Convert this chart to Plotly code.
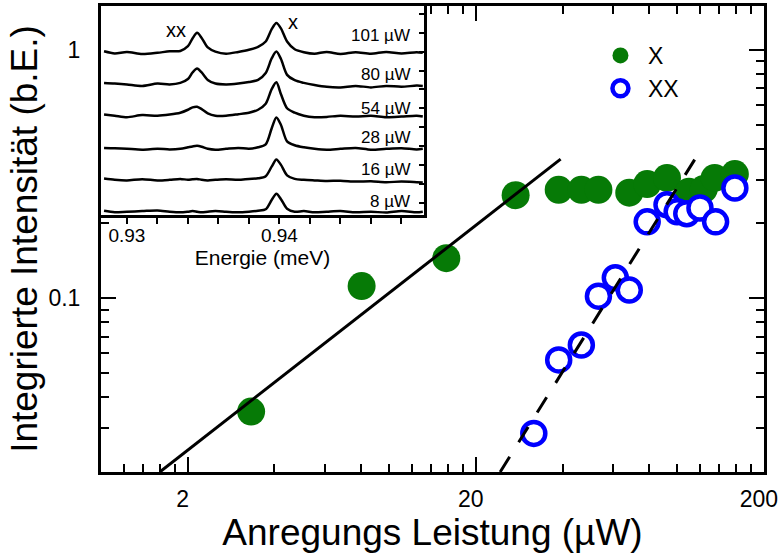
import plotly.graph_objects as go

# ---------------- main data ----------------
power_x = [3.32, 8.03, 15.8, 27.5, 38.8, 46.5, 53.3, 68.2, 78.7, 92.2, 109.9, 123.7, 135.0, 158.6]
inten_x = [0.035, 0.112, 0.145, 0.26, 0.273, 0.273, 0.273, 0.266, 0.288, 0.305, 0.268, 0.275, 0.305, 0.316]

power_xx = [31.8, 38.8, 46.5, 53.3, 61.0, 68.2, 78.7, 92.2, 100.0, 108.0, 120.0, 136.0, 158.6]
inten_xx = [0.0286, 0.0565, 0.0649, 0.102, 0.121, 0.108, 0.203, 0.238, 0.223, 0.219, 0.231, 0.203, 0.278]

fit_lin_x = [1.6, 39.4]
fit_lin_y = [0.02, 0.363]
fit_quad_x = [24.3, 121.8]
fit_quad_y = [0.02, 0.402]

x_tickvals = [2, 20, 200]
x_ticktext = ["2", "20", "200"]
x_minor = [1.2, 1.4, 1.6, 1.8, 4, 6, 8, 10, 12, 14, 16, 18, 40, 60, 80, 100, 120, 140, 160, 180]
y_tickvals = [0.1, 1]
y_ticktext = ["0.1", "1"]
y_minor = [0.03, 0.04, 0.05, 0.06, 0.07, 0.08, 0.09, 0.2, 0.3, 0.4, 0.5, 0.6, 0.7, 0.8, 0.9]

# ---------------- inset spectra ----------------
energy = [0.9285, 0.9292, 0.9300, 0.9310, 0.9320, 0.9328, 0.9335, 0.9340, 0.9343, 0.9346,
          0.9349, 0.9353, 0.9358, 0.9365, 0.9373, 0.9380, 0.9386, 0.9391, 0.9395, 0.9398,
          0.9401, 0.9405, 0.9410, 0.9416, 0.9423, 0.9431, 0.9440, 0.9450, 0.9460, 0.9470,
          0.9480, 0.9490, 0.9494]
spec_101 = [0.05, -0.02, 0.03, -0.04, 0.0, 0.05, 0.06, 0.22, 0.48, 0.67, 0.50, 0.18, 0.04, -0.03, 0.03, 0.10,
            0.20, 0.38, 0.80, 1.00, 0.82, 0.38, 0.12, 0.02, -0.03, 0.03, -0.04, 0.02, -0.03, 0.03, -0.02, 0.02, 0.0]
spec_80 = [0.05, 0.03, 0.0, -0.05, 0.03, 0.0, 0.05, 0.18, 0.40, 0.53, 0.40, 0.15, 0.03, 0.0, 0.03, 0.08,
           0.15, 0.38, 0.88, 1.10, 0.85, 0.32, 0.14, 0.05, -0.02, -0.08, -0.10, -0.05, -0.10, -0.05, -0.08, -0.04, -0.05]
spec_54 = [0.04, 0.0, -0.05, 0.02, 0.0, 0.04, 0.10, 0.20, 0.28, 0.30, 0.22, 0.08, 0.0, 0.0, 0.05, 0.10,
           0.20, 0.40, 0.90, 1.12, 0.72, 0.25, 0.10, 0.0, -0.05, -0.04, 0.0, -0.03, 0.0, -0.05, -0.03, 0.0, -0.03]
spec_28 = [0.03, 0.02, 0.0, -0.03, 0.0, -0.02, 0.0, 0.05, 0.08, 0.10, 0.07, 0.0, -0.03, 0.0, 0.03, 0.0,
           0.05, 0.15, 0.70, 1.05, 0.80, 0.25, 0.12, 0.05, 0.0, -0.03, 0.0, 0.03, -0.03, 0.0, 0.02, -0.02, 0.0]
spec_16 = [0.04, 0.0, -0.02, 0.02, -0.02, 0.0, 0.03, 0.0, 0.02, 0.03, 0.0, -0.02, 0.0, 0.02, 0.0, 0.03,
           0.05, 0.12, 0.45, 0.68, 0.50, 0.15, 0.03, 0.0, -0.02, -0.04, -0.03, -0.06, -0.05, -0.08, -0.06, -0.08, -0.09]
spec_8 = [0.03, -0.02, 0.0, 0.02, 0.04, 0.0, -0.02, 0.0, 0.02, 0.0, -0.02, 0.0, 0.02, 0.0, -0.02, 0.0,
          0.03, 0.08, 0.40, 0.60, 0.42, 0.10, 0.0, 0.02, -0.02, 0.0, 0.02, -0.02, 0.0, -0.03, 0.02, -0.02, 0.0]
spectra = [spec_101, spec_80, spec_54, spec_28, spec_16, spec_8]
spec_offsets = [5.43, 4.37, 3.32, 2.21, 1.17, 0.10]
spec_labels = ["101 µW", "80 µW", "54 µW", "28 µW", "16 µW", "8 µW"]
spec_label_y = [6.0, 4.7, 3.57, 2.6, 1.5, 0.43]
inset_ticks = [0.93, 0.94]
inset_ticktext = ["0.93", "0.94"]
inset_minor = [0.932, 0.934, 0.936, 0.938, 0.942, 0.944, 0.946, 0.948]

FONT = "Liberation Sans, Arial, sans-serif"
GREEN = "#067a06"
BLUE = "#0000ff"

fig = go.Figure()

fig.add_trace(go.Scatter(x=power_x, y=inten_x, mode="markers", name="X",
                         marker=dict(size=28, color=GREEN, line=dict(width=0))))
fig.add_trace(go.Scatter(x=power_xx, y=inten_xx, mode="markers", name="XX",
                         marker=dict(size=23, color="white", line=dict(width=4.5, color=BLUE))))
fig.add_trace(go.Scatter(x=fit_lin_x, y=fit_lin_y, mode="lines", showlegend=False,
                         line=dict(color="black", width=3)))
fig.add_trace(go.Scatter(x=fit_quad_x, y=fit_quad_y, mode="lines", showlegend=False,
                         line=dict(color="black", width=3, dash="18px,17px")))

for spec, off in zip(spectra, spec_offsets):
    fig.add_trace(go.Scatter(x=energy, y=[v + off for v in spec], mode="lines", showlegend=False,
                             xaxis="x2", yaxis="y2",
                             line=dict(color="black", width=2.5, shape="spline", smoothing=0.8)))

for lab, ly in zip(spec_labels, spec_label_y):
    fig.add_annotation(x=0.9487, y=ly, xref="x2", yref="y2", text=lab, showarrow=False,
                       xanchor="right", yanchor="middle", font=dict(size=17, family=FONT, color="black"))
fig.add_annotation(x=0.9332, y=6.2, xref="x2", yref="y2", text="xx", showarrow=False,
                   font=dict(size=20, family=FONT, color="black"))
fig.add_annotation(x=0.9409, y=6.45, xref="x2", yref="y2", text="x", showarrow=False,
                   font=dict(size=20, family=FONT, color="black"))

axis_common = dict(showline=True, linecolor="black", linewidth=3, mirror="allticks",
                   ticks="inside", ticklen=15, tickwidth=2, tickcolor="black",
                   showgrid=False, zeroline=False,
                   tickfont=dict(size=23, family=FONT, color="black"))

fig.update_layout(
    width=781, height=557,
    margin=dict(l=101, r=15, t=3, b=85),
    paper_bgcolor="white", plot_bgcolor="white",
    font=dict(family=FONT, color="black"),
    xaxis=dict(type="log", range=[0, 2.3015], tickvals=x_tickvals, ticktext=x_ticktext,
               ticklabelshift=-5, ticklabelstandoff=4,
               minor=dict(tickvals=x_minor, ticks="inside", ticklen=8, tickwidth=2, tickcolor="black"),
               title=dict(text="Anregungs Leistung (µW)", font=dict(size=37, family=FONT), standoff=2),
               **axis_common),
    yaxis=dict(type="log", range=[-1.699, 0.176], tickvals=y_tickvals, ticktext=y_ticktext,
               ticklabelstandoff=13,
               minor=dict(tickvals=y_minor, ticks="inside", ticklen=8, tickwidth=2, tickcolor="black"),
               title=dict(text="Integrierte Intensität (b.E.)", font=dict(size=37, family=FONT), standoff=0),
               **axis_common),
    xaxis2=dict(domain=[0, 0.4872], anchor="y2", range=[0.9283, 0.94948],
                showline=True, linecolor="black", linewidth=2.5, mirror=False,
                ticks="outside", ticklen=7, tickwidth=2, tickcolor="black",
                tickvals=inset_ticks, ticktext=inset_ticktext, ticklabelstandoff=-5,
                minor=dict(tickvals=inset_minor, ticks="outside", ticklen=7, tickwidth=2, tickcolor="black"),
                tickfont=dict(size=19, family=FONT), showgrid=False, zeroline=False,
                title=dict(text="Energie (meV)", font=dict(size=21, family=FONT), standoff=0)),
    yaxis2=dict(domain=[0.5522, 1], anchor="x2", range=[0, 7], side="right",
                showline=True, linecolor="black", linewidth=2.5,
                ticks="inside", ticklen=5, tickwidth=2, tickcolor="black",
                tick0=6.1, dtick=0.633, showticklabels=False, showgrid=False, zeroline=False),
    legend=dict(x=0.742, y=0.94, xanchor="left", yanchor="top", bgcolor="rgba(0,0,0,0)",
                font=dict(size=23, family=FONT), itemsizing="trace", itemwidth=45, tracegroupgap=0),
)

fig.write_html("out.html")
